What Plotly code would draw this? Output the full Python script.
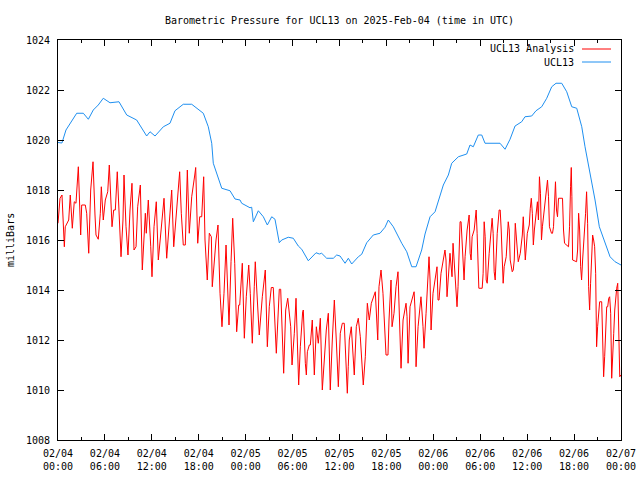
import pandas as pd
import plotly.graph_objects as go

start = pd.Timestamp("2025-02-04 00:00")

# UCL13 (blue) : hours since 2025-02-04 00:00 UTC, pressure in mBar
blue_hours = [0.0, 0.5, 1.02, 2.39, 3.24, 3.88, 4.51, 5.15, 5.79, 6.65, 7.8, 8.79, 10.06, 11.34, 11.77,
              12.41, 13.47, 14.32, 14.96, 16.02, 17.1, 17.74, 18.58, 19.22, 19.66, 19.86, 20.3, 20.94,
              22.0, 22.64, 23.28, 23.49, 24.55, 24.77, 24.98, 25.62, 26.26, 26.77, 27.33, 27.75, 28.3,
              28.61, 29.45, 30.09, 30.73, 31.17, 32.01, 32.45, 33.0, 33.42, 33.72, 34.36, 35.21, 35.64,
              36.07, 36.71, 37.13, 37.56, 38.41, 38.84, 39.48, 40.32, 41.18, 41.82, 42.24, 42.88, 43.52,
              43.96, 44.6, 45.24, 45.79, 46.51, 46.94, 47.58, 48.22, 48.64, 49.28, 49.92, 50.35, 51.2,
              52.27, 52.69, 53.11, 53.75, 54.19, 54.61, 56.53, 57.17, 57.81, 58.45, 59.3, 59.72, 60.58,
              61.13, 61.86, 62.5, 63.14, 63.69, 64.42, 65.06, 65.7, 66.34, 66.98, 67.4, 68.04, 68.68,
              69.23, 69.96, 70.6, 71.24, 71.78, 72.0]
blue_values = [1019.9, 1019.88, 1020.4, 1021.07, 1021.07, 1020.83, 1021.2, 1021.4, 1021.67, 1021.49,
               1021.53, 1021.0, 1020.8, 1020.16, 1020.33, 1020.16, 1020.53, 1020.67, 1021.17, 1021.43,
               1021.43, 1021.27, 1021.07, 1020.53, 1019.87, 1019.07, 1018.67, 1018.07, 1017.97, 1017.64,
               1017.6, 1017.47, 1017.29, 1017.31, 1016.73, 1017.17, 1016.93, 1016.6, 1016.93, 1016.83,
               1015.89, 1016.0, 1016.11, 1016.07, 1015.76, 1015.63, 1015.17, 1015.31, 1015.49, 1015.44,
               1015.47, 1015.27, 1015.27, 1015.4, 1015.36, 1015.07, 1015.27, 1015.04, 1015.33, 1015.43,
               1015.89, 1016.2, 1016.27, 1016.51, 1016.8, 1016.53, 1016.13, 1015.87, 1015.53, 1014.93,
               1014.93, 1015.6, 1016.24, 1016.93, 1017.13, 1017.53, 1018.2, 1018.6, 1019.07, 1019.33,
               1019.44, 1019.8, 1019.73, 1020.2, 1020.2, 1019.87, 1019.87, 1019.63, 1020.03, 1020.56,
               1020.73, 1020.93, 1020.96, 1021.17, 1021.33, 1021.67, 1022.13, 1022.27, 1022.27, 1021.93,
               1021.33, 1021.27, 1020.53, 1019.73, 1018.67, 1017.6, 1016.53, 1015.93, 1015.33, 1015.13,
               1015.04, 1015.0]

# UCL13 Analysis (red)
red_hours = [0.0, 0.26, 0.51, 0.68, 0.81, 0.93, 1.37, 1.57, 1.83, 2.08, 2.30, 2.60, 2.81, 2.90, 3.03,
             3.49, 3.67, 3.93, 4.18, 4.48, 4.73, 4.86, 5.15, 5.41, 5.54, 5.79, 6.05, 6.36, 6.56, 6.78,
             6.91, 7.12, 7.33, 7.58, 7.80, 8.06, 8.31, 8.44, 8.70, 8.95, 9.21, 9.46, 9.72, 9.98,
             10.19, 10.53, 10.78, 10.91, 11.17, 11.29, 11.55, 11.86, 12.02, 12.28, 12.57, 12.83, 13.13,
             13.39, 13.56, 13.90, 14.16, 14.54, 14.80, 15.18, 15.56, 15.77, 16.02, 16.28, 16.54, 16.79,
             17.10, 17.49, 17.61, 17.87, 18.12, 18.38, 18.63, 18.80, 19.09, 19.35, 19.61, 19.73, 19.95,
             20.21, 20.46, 20.72, 20.97, 21.23, 21.49, 21.74, 21.87, 22.13, 22.34, 22.60, 22.85, 23.11,
             23.24, 23.57, 23.83, 24.08, 24.39, 24.59, 24.85, 25.10, 25.23, 25.49, 25.74, 26.13, 26.51,
             26.77, 27.02, 27.28, 27.53, 27.92, 28.17, 28.30, 28.48, 28.86, 29.12, 29.38, 29.76, 29.93,
             30.22, 30.44, 30.78, 30.99, 31.29, 31.37, 31.63, 31.76, 31.89, 32.14, 32.27, 32.52, 32.78,
             33.04, 33.29, 33.55, 33.80, 34.06, 34.31, 34.57, 34.82, 35.08, 35.34, 35.59, 35.85, 36.10,
             36.36, 36.61, 36.87, 37.00, 37.12, 37.25, 37.51, 37.89, 38.15, 38.40, 38.66, 39.04, 39.30,
             39.56, 39.81, 40.07, 40.58, 40.89, 41.05, 41.31, 41.56, 41.82, 41.95, 42.20, 42.33, 42.59,
             42.72, 42.97, 43.23, 43.48, 43.74, 43.87, 44.13, 44.51, 44.64, 44.77, 45.02, 45.54, 45.66,
             45.79, 46.05, 46.42, 46.68, 46.81, 47.07, 47.45, 47.58, 47.71, 47.96, 48.47, 48.60, 48.73,
             48.98, 49.49, 49.62, 49.75, 50.13, 50.39, 50.52, 50.77, 51.03, 51.16, 51.29, 51.42, 51.55,
             51.67, 51.80, 51.93, 52.06, 52.32, 52.58, 52.71, 52.83, 52.96, 53.22, 53.48, 53.60, 53.73,
             53.82, 54.25, 54.37, 54.50, 54.63, 54.76, 54.89, 55.14, 55.40, 55.52, 55.65, 55.78, 55.91,
             56.04, 56.17, 56.42, 56.55, 56.68, 56.81, 56.93, 57.06, 57.32, 57.58, 57.71, 57.83, 58.09,
             58.22, 58.35, 58.48, 58.61, 58.86, 59.12, 59.38, 59.50, 59.63, 59.76, 60.02, 60.27, 60.40,
             60.53, 60.66, 60.79, 60.92, 61.18, 61.31, 61.44, 61.57, 61.70, 61.83, 61.95, 62.21, 62.47,
             62.60, 62.73, 62.85, 63.11, 63.24, 63.37, 63.50, 63.62, 63.75, 63.88, 64.01, 64.52, 64.65,
             64.78, 65.29, 65.42, 65.55, 65.64, 65.72, 65.81, 66.32, 66.45, 66.58, 66.71, 66.84, 66.96,
             67.09, 67.22, 67.35, 67.47, 67.60, 67.73, 67.86, 67.99, 68.11, 68.24, 68.37, 68.50, 68.63,
             68.76, 68.88, 69.01, 69.14, 69.27, 69.53, 69.65, 69.78, 69.91, 70.04, 70.17, 70.30, 70.43,
             70.55, 70.68, 70.81, 70.94, 71.07, 71.20, 71.33, 71.45, 71.58, 71.71, 71.84, 71.97]
red_values = [1016.67, 1017.67, 1017.8, 1016.27, 1015.73, 1016.53, 1016.8, 1017.8, 1016.47, 1017.53,
              1017.47, 1018.93, 1016.93, 1016.2, 1017.4, 1017.4, 1017.07, 1015.47, 1018.0, 1019.13,
              1017.0, 1016.2, 1016.03, 1017.07, 1018.13, 1016.8, 1017.6, 1017.93, 1019.0, 1017.07,
              1016.53, 1017.2, 1017.2, 1018.73, 1016.8, 1015.33, 1016.8, 1018.6, 1016.53, 1015.4,
              1017.2, 1018.27, 1015.6, 1015.73,
              1017.33, 1018.2, 1014.8, 1015.6, 1017.07, 1016.27, 1017.6, 1015.73, 1014.53, 1016.53,
              1017.53, 1015.2, 1016.27, 1017.33, 1017.67, 1015.27, 1016.4, 1018.0, 1015.73, 1017.07,
              1018.73, 1017.07, 1015.8, 1015.8, 1018.8, 1016.27, 1017.73, 1018.6, 1018.9, 1015.87,
              1016.93, 1016.93, 1018.53, 1016.0, 1014.4, 1016.27, 1016.13, 1014.13, 1015.2, 1016.0,
              1016.6, 1013.87, 1012.53, 1013.87, 1015.8, 1013.33, 1012.6, 1015.13, 1016.87, 1015.07,
              1012.33, 1013.4, 1013.4, 1015.07, 1012.07, 1013.73, 1015.0, 1013.87, 1011.87, 1014.13,
              1015.13, 1013.6, 1012.2, 1013.73, 1014.8, 1011.73, 1013.33, 1014.1, 1014.1, 1011.47,
              1013.33, 1014.03, 1014.03, 1010.67, 1013.2, 1013.67, 1012.53, 1011.0, 1012.27, 1013.67,
              1010.2, 1011.73, 1013.13, 1013.2, 1011.07, 1010.6, 1011.53, 1011.8, 1011.8, 1012.8,
              1010.6, 1012.53, 1011.87, 1012.87, 1010.0, 1011.33, 1012.4, 1013.07, 1010.0, 1012.0,
              1013.6, 1012.0, 1010.13, 1012.27, 1012.67, 1012.67, 1010.67, 1009.87, 1010.93, 1012.0,
              1012.53, 1010.6, 1012.53, 1012.87, 1012.13, 1010.2, 1011.33, 1013.47, 1012.8, 1013.47,
              1013.93, 1012.0, 1014.13, 1014.8, 1013.87, 1011.87, 1011.4, 1011.4, 1012.8, 1014.4,
              1012.53, 1013.07, 1014.13, 1014.73, 1011.73, 1010.87, 1012.8, 1013.47, 1012.93, 1011.07,
              1013.33, 1013.93, 1013.2, 1010.93, 1012.53, 1013.73, 1012.53, 1011.67, 1013.07, 1015.33,
              1014.4, 1012.4, 1013.87, 1014.93, 1013.6, 1013.6, 1014.67, 1015.6, 1015.2, 1013.73,
              1015.47, 1014.53, 1015.87, 1014.53, 1013.33, 1014.13, 1015.87, 1016.73, 1016.73, 1016.0,
              1014.8, 1014.4, 1015.33, 1016.4, 1017.0, 1015.47, 1015.2, 1016.13, 1016.4, 1017.2,
              1016.27, 1014.8, 1014.07, 1014.07, 1014.67, 1016.73, 1016.13, 1014.4, 1014.27, 1015.47,
              1016.47, 1016.87, 1016.27, 1014.73, 1014.4, 1015.2, 1016.27, 1017.2, 1017.2, 1016.4,
              1015.07, 1014.27, 1014.93, 1015.33, 1016.73, 1016.4, 1015.2, 1014.73, 1014.8, 1015.2,
              1016.67, 1016.0, 1015.13, 1015.47, 1016.2, 1016.93, 1016.27, 1015.2, 1016.27, 1016.6,
              1017.27, 1017.67, 1017.07, 1015.8, 1016.4, 1017.07, 1017.53, 1016.8, 1018.53, 1017.87,
              1016.0, 1016.53, 1017.33, 1018.0, 1018.4, 1017.73, 1016.53, 1016.27, 1016.27, 1016.53,
              1017.73, 1018.33, 1017.2, 1016.93, 1017.67, 1017.67, 1016.4, 1015.87, 1015.73, 1016.53,
              1018.13, 1018.9, 1017.73, 1015.2, 1015.13, 1015.6, 1017.07, 1016.4, 1014.93, 1014.4,
              1015.2, 1015.73, 1016.4, 1017.07, 1017.93, 1016.67, 1014.13, 1013.2, 1014.27, 1015.07,
              1016.2, 1016.0, 1015.73, 1014.67, 1011.73, 1012.53, 1013.2, 1013.53, 1013.53, 1012.27,
              1010.53, 1011.33, 1012.53, 1013.33, 1013.33, 1013.67, 1013.73, 1013.07, 1010.47, 1011.2,
              1012.27, 1013.2, 1013.73, 1014.07, 1014.27, 1012.8, 1010.53, 1010.6]

y_ticks = [1008, 1010, 1012, 1014, 1016, 1018, 1020, 1022, 1024]
title_text = "Barometric Pressure for UCL13 on 2025-Feb-04 (time in UTC)"
series_names = ["UCL13 Analysis", "UCL13"]
series_colors = ["#ff0000", "#1e8ff0"]

red_t = [start + pd.Timedelta(hours=h) for h in red_hours]
blue_t = [start + pd.Timedelta(hours=h) for h in blue_hours]

FONT = "DejaVu Sans Mono"
fig = go.Figure()
fig.add_trace(go.Scatter(x=red_t, y=red_values, mode="lines", name=series_names[0],
                         line=dict(color=series_colors[0], width=1)))
fig.add_trace(go.Scatter(x=blue_t, y=blue_values, mode="lines", name=series_names[1],
                         line=dict(color=series_colors[1], width=1)))

H = 3600 * 1000
fig.update_layout(
    width=640, height=480,
    margin=dict(l=58, r=19, t=40, b=40, autoexpand=False),
    paper_bgcolor="white", plot_bgcolor="white",
    showlegend=False,
    font=dict(family=FONT, size=10, color="black"),
    title=dict(text=title_text, x=(58 + 621) / 2 / 640, xanchor="center",
               y=1 - 20 / 480, yanchor="middle", font=dict(family=FONT, size=10),
               automargin=False),
)
fig.update_xaxes(
    type="date", automargin=False,
    range=[start, start + pd.Timedelta(hours=72)],
    tick0=start, dtick=6 * H, tickformat="%m/%d<br>%H:%M",
    ticks="inside", ticklen=6, tickcolor="black",
    showline=True, linecolor="black", linewidth=1, mirror="ticks",
    showgrid=False, zeroline=False,
    minor=dict(dtick=3 * H, tick0=start, ticks="inside", ticklen=3, tickcolor="black", showgrid=False),
    ticklabelstandoff=4,
)
fig.update_yaxes(
    automargin=False,
    range=[1008, 1024], tickvals=y_ticks,
    ticks="inside", ticklen=6, tickcolor="black",
    showline=True, linecolor="black", linewidth=1, mirror="ticks",
    showgrid=False, zeroline=False, ticklabelstandoff=5,
)

fig.add_annotation(text="milliBars", xref="paper", yref="paper", x=(10 - 58) / 563, y=0.5,
                   textangle=-90, showarrow=False, xanchor="center", yanchor="middle",
                   font=dict(family=FONT, size=10))

# custom gnuplot-style legend (text left of sample line), top right inside the plot
legend_rows = [49, 62]
for name, color, ypx in zip(series_names, series_colors, legend_rows):
    yp = (440 - ypx) / 400
    fig.add_annotation(text=name, xref="paper", yref="paper", x=(576 - 58) / 563, y=yp,
                       xanchor="right", yanchor="middle", showarrow=False,
                       font=dict(family=FONT, size=10))
    fig.add_shape(type="line", xref="paper", yref="paper",
                  x0=(582 - 58) / 563, x1=(611 - 58) / 563, y0=yp, y1=yp,
                  line=dict(color=color, width=1))

fig.write_html("out.html", config={"displayModeBar": False, "staticPlot": True},
               post_script="document.body.style.margin='0px';document.body.style.padding='0px';")
